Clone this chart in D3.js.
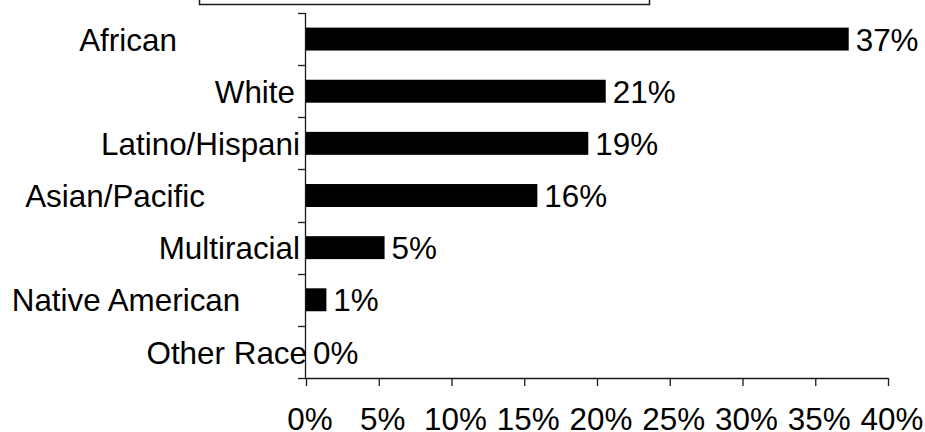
<!DOCTYPE html>
<html>
<head>
<meta charset="utf-8">
<script src="https://cdn.jsdelivr.net/npm/d3@7"></script>
<style>
  html, body { margin: 0; padding: 0; background: #fff; }
  svg { display: block; font-family: "Liberation Sans", Arial, sans-serif; }
</style>
</head>
<body>
<svg id="chart" width="925" height="432"></svg>
<script>
// Share of respondents by race (percent)
const categories = ["African", "White", "Latino/Hispani", "Asian/Pacific", "Multiracial", "Native American", "Other Race"];
const shares = [37.3, 20.6, 19.4, 15.9, 5.4, 1.4, 0];
const xTicks = [0, 5, 10, 15, 20, 25, 30, 35, 40];

const svg = d3.select("#chart");
const fontSize = 31.4;
const axisColor = "#1a1a1a";

const plot = { left: 306, right: 888, top: 13, bottom: 378 };

// Label placement: wrapped labels are centred in their box, the rest sit against the axis
const labelPlacement = {
  "African":         { anchor: "middle", x: 128 },
  "White":           { anchor: "end",    x: 295 },
  "Latino/Hispani":  { anchor: "end",    x: 300 },
  "Asian/Pacific":   { anchor: "middle", x: 115 },
  "Multiracial":     { anchor: "end",    x: 300 },
  "Native American": { anchor: "middle", x: 126 },
  "Other Race":      { anchor: "end",    x: 307 }
};

const x = d3.scaleLinear().domain([0, 40]).range([plot.left, plot.right]);
const y = d3.scaleBand()
  .domain(categories)
  .range([plot.top, plot.bottom])
  .paddingInner(0.56)
  .paddingOuter(0.28);

// Title box, clipped by the top edge
svg.append("rect")
  .attr("x", 199.5).attr("y", -40)
  .attr("width", 450).attr("height", 44.5)
  .attr("fill", "none").attr("stroke", axisColor).attr("stroke-width", 1.5);

// Bars
svg.append("g").selectAll("rect")
  .data(categories)
  .join("rect")
  .attr("x", x(0))
  .attr("y", d => y(d))
  .attr("width", (d, i) => x(shares[i]) - x(0))
  .attr("height", y.bandwidth())
  .attr("fill", "#000");

// Value labels
svg.append("g").selectAll("text")
  .data(categories)
  .join("text")
  .attr("x", (d, i) => x(shares[i]) + 7)
  .attr("y", d => y(d) + y.bandwidth() / 2)
  .attr("dy", "0.37em")
  .attr("font-size", fontSize)
  .attr("fill", "#000")
  .text((d, i) => d3.format(".0f")(shares[i]) + "%");

// Category axis
const step = y.step();
const bounds = d3.range(categories.length + 1).map(i => plot.top + i * step);
const yAxis = svg.append("g");
yAxis.append("line")
  .attr("x1", x(0) - 0.5).attr("x2", x(0) - 0.5)
  .attr("y1", plot.top).attr("y2", plot.bottom)
  .attr("stroke", axisColor).attr("stroke-width", 1.3);
yAxis.selectAll("line.tick")
  .data(bounds)
  .join("line")
  .attr("class", "tick")
  .attr("x1", x(0) - 8).attr("x2", x(0))
  .attr("y1", d => Math.round(d) + 0.5).attr("y2", d => Math.round(d) + 0.5)
  .attr("stroke", axisColor).attr("stroke-width", 1.3);

yAxis.selectAll("text")
  .data(categories)
  .join("text")
  .attr("x", d => labelPlacement[d].x)
  .attr("text-anchor", d => labelPlacement[d].anchor)
  .attr("y", d => y(d) + y.bandwidth() / 2)
  .attr("dy", "0.37em")
  .attr("font-size", fontSize)
  .attr("fill", "#000")
  .text(d => d);

// Value axis
const xAxis = svg.append("g")
  .attr("transform", `translate(0,${plot.bottom})`)
  .call(d3.axisBottom(x).tickValues(xTicks).tickSize(8).tickSizeOuter(0).tickFormat(d => d + "%"));
xAxis.select(".domain").attr("stroke", axisColor).attr("stroke-width", 1.3);
xAxis.selectAll(".tick line").attr("stroke", axisColor).attr("stroke-width", 1.3);
xAxis.selectAll(".tick text")
  .attr("font-size", fontSize)
  .attr("font-family", "Liberation Sans, Arial, sans-serif")
  .attr("fill", "#000")
  .attr("y", 51.5)
  .attr("dx", 3.5)
  .attr("dy", 0);
</script>
</body>
</html>
